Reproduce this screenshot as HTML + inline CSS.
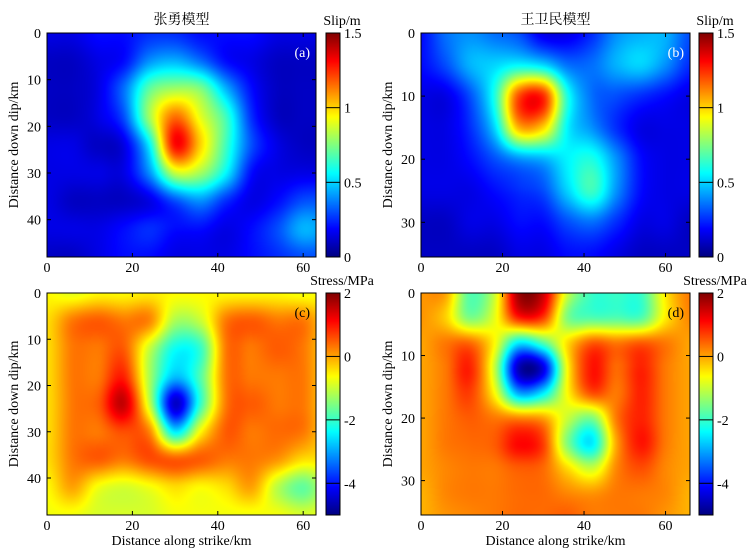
<!DOCTYPE html>
<html><head><meta charset="utf-8">
<style>
body{margin:0;background:#fff;}
#wrap{position:relative;width:756px;height:556px;overflow:hidden;font-family:"Liberation Serif","Noto Serif CJK SC",serif;}
canvas{position:absolute;}
svg{position:absolute;left:0;top:0;}
</style></head>
<body>
<div id="wrap">
<svg id="ov" width="756" height="556"></svg>
</div>
<script>
// ---- data grids ----
const slipAX = [0,6,12,18,24,30,36,42,48,54,60,66];
const slipAY = [0,6,12,18,24,30,36,42,48];
const slipA = [
[.15,.15,.2,.2,.25,.25,.2,.2,.2,.15,.15,.15],
[.1,.1,.15,.2,.4,.45,.35,.2,.15,.1,.1,.1],
[.1,.1,.15,.35,.7,.8,.75,.45,.2,.1,.1,.1],
[.1,.1,.15,.3,.8,1.15,.9,.65,.25,.1,.1,.1],
[.15,.15,.1,.15,.55,1.3,1.0,.65,.3,.15,.1,.1],
[.15,.15,.15,.15,.4,.85,.8,.55,.2,.15,.15,.15],
[.15,.1,.1,.1,.15,.3,.4,.25,.15,.2,.3,.3],
[.15,.15,.15,.2,.25,.2,.2,.15,.2,.3,.45,.4],
[.1,.1,.15,.2,.2,.15,.15,.15,.2,.25,.3,.3]];
const slipBX = [0,6,12,18,24,30,36,42,48,54,60,66];
const slipBY = [0,5,10,15,20,25,30,35];
const slipB = [
[.2,.35,.4,.35,.3,.15,.15,.25,.4,.45,.45,.3],
[.2,.3,.45,.5,.55,.5,.35,.35,.45,.5,.4,.25],
[.15,.15,.3,.6,1.2,1.25,.6,.35,.3,.25,.2,.15],
[.15,.15,.25,.5,1.05,1.0,.55,.4,.25,.15,.15,.15],
[.15,.15,.2,.3,.4,.45,.55,.6,.4,.2,.15,.15],
[.15,.15,.15,.2,.25,.3,.5,.65,.4,.2,.15,.15],
[.1,.1,.15,.15,.2,.2,.3,.35,.25,.15,.15,.1],
[.1,.1,.1,.1,.15,.15,.2,.2,.15,.1,.1,.1]];
const stressCX = [0,6,12,18,24,30,36,42,48,54,60,66];
const stressCY = [0,6,12,18,24,30,36,42,48];
const stressC = [
[-.6,-.8,-.6,-.6,-.5,-.6,-.6,-.6,-.6,-.6,-.7,-.6],
[-.4,.3,.5,.3,.2,-1.2,-1,.3,.5,.3,.3,-.4],
[-.4,.3,.3,.5,-1,-2.3,-2,.3,.3,.5,.3,-.4],
[-.4,.3,.3,.9,-1.2,-2.8,-1.8,.3,.3,.3,.3,-.4],
[-.4,.3,.5,1.5,-1,-4.5,-2,.3,.5,.3,.3,-.4],
[-.4,.3,.3,.6,.2,-2.5,-.6,.5,.3,.4,.3,-.4],
[-.4,.3,.5,.3,.6,.5,.5,.3,.3,.1,-.4,-.4],
[-.6,0,-.7,-.9,-.7,-.4,-.6,-.4,0,-1.1,-1.7,-.9],
[-.7,-.7,-.9,-.9,-.9,-.7,-.7,-.7,-.7,-.7,-.9,-.7]];
const stressDX = [0,6,12,18,24,30,36,42,48,54,60,66];
const stressDY = [0,4,8,12,16,20,24,28,32,36];
const stressD = [
[.1,0,-1.8,-1,1.8,1.5,-1,-2,-2,-2,-.5,.3],
[.1,-.3,-1.5,-.8,.9,.7,-1.5,-1.8,-1.8,-1.8,-.5,.2],
[0,.3,.4,-.6,-2.5,-1.8,-.4,.5,.3,.5,.3,0],
[0,.3,.9,-1,-4.6,-4.3,-.6,1.0,.4,.9,.3,0],
[0,.3,.7,-.6,-3,-2.5,-.6,.6,.3,.9,.3,0],
[0,.3,.5,.3,.2,0,-1,-1.5,.3,.9,.3,0],
[0,.3,.4,.5,1.1,.7,-1.5,-2.5,0,1.0,.3,0],
[0,.2,.3,.3,.5,.4,-.4,-1,.2,.6,.2,0],
[-.1,.2,.3,.3,.4,.4,.2,.1,.3,.3,.2,-.1],
[-.1,.1,.2,.3,.4,.4,.5,.3,.3,.3,.1,-.1]];
const xTicks = [0,20,40,60];
const yTicksA = [0,10,20,30,40];
const yTicksB = [0,10,20,30];
const slipTicks = [0,0.5,1,1.5];
const slipTickLabels = ['0','0.5','1','1.5'];
const stressTicks = [-4,-2,0,2];
const stressTickLabels = ['-4','-2','0','2'];

const panels = [
 {id:'a',gx:slipAX,gy:slipAY,v:slipA,x0:47,x1:316,y0:33,y1:257,xmax:63,ymax:48,yt:yTicksA,vmin:0,vmax:1.5,ct:slipTicks,cl:slipTickLabels,cx:326,title:'张勇模型',unit:'Slip/m',xt:false},
 {id:'b',gx:slipBX,gy:slipBY,v:slipB,x0:421,x1:690,y0:33,y1:257,xmax:66,ymax:35.5,yt:yTicksB,vmin:0,vmax:1.5,ct:slipTicks,cl:slipTickLabels,cx:699,title:'王卫民模型',unit:'Slip/m',xt:false},
 {id:'c',gx:stressCX,gy:stressCY,v:stressC,x0:47,x1:316,y0:293,y1:515,xmax:63,ymax:48,yt:yTicksA,vmin:-5,vmax:2,ct:stressTicks,cl:stressTickLabels,cx:326,title:'',unit:'Stress/MPa',xt:true},
 {id:'d',gx:stressDX,gy:stressDY,v:stressD,x0:421,x1:690,y0:293,y1:515,xmax:66,ymax:35.5,yt:yTicksB,vmin:-5,vmax:2,ct:stressTicks,cl:stressTickLabels,cx:699,title:'',unit:'Stress/MPa',xt:true}
];

function jet(t){
  t=Math.max(0,Math.min(1,t));
  const c=x=>Math.round(255*Math.max(0,Math.min(1,x)));
  return [c(1.5-Math.abs(4*t-3)),c(1.5-Math.abs(4*t-2)),c(1.5-Math.abs(4*t-1))];
}
function cub(p0,p1,p2,p3,t){
  return p1+0.5*t*(p2-p0+t*(2*p0-5*p1+4*p2-p3+t*(3*(p1-p2)+p3-p0)));
}
function findIdx(g,x){
  let i=0; while(i<g.length-2 && x>g[i+1]) i++;
  let t=(x-g[i])/(g[i+1]-g[i]); t=Math.max(0,Math.min(1,t));
  return [i,t];
}
function sample(p,x,y){
  const [i,tx]=findIdx(p.gx,x), [j,ty]=findIdx(p.gy,y);
  const V=(r,c)=>p.v[Math.max(0,Math.min(p.v.length-1,r))][Math.max(0,Math.min(p.v[0].length-1,c))];
  const rows=[];
  for(let r=-1;r<=2;r++) rows.push(cub(V(j+r,i-1),V(j+r,i),V(j+r,i+1),V(j+r,i+2),tx));
  return cub(rows[0],rows[1],rows[2],rows[3],ty);
}
const wrap=document.getElementById('wrap');
const ov=document.getElementById('ov');
const NS='http://www.w3.org/2000/svg';
function el(tag,attrs,txt){const e=document.createElementNS(NS,tag);for(const k in attrs)e.setAttribute(k,attrs[k]);if(txt!==undefined)e.textContent=txt;ov.appendChild(e);return e;}

panels.forEach(p=>{
  const W=p.x1-p.x0,H=p.y1-p.y0;
  const cv=document.createElement('canvas');
  cv.width=W;cv.height=H;cv.style.left=p.x0+'px';cv.style.top=p.y0+'px';
  
  
  wrap.insertBefore(cv,ov);
  const ctx=cv.getContext('2d');const img=ctx.createImageData(W,H);
  for(let py=0;py<H;py++)for(let px=0;px<W;px++){
    const x=(px+0.5)/W*p.xmax,y=(py+0.5)/H*p.ymax;
    const val=sample(p,x,y);const c=jet((val-p.vmin)/(p.vmax-p.vmin));
    const k=(py*W+px)*4;img.data[k]=c[0];img.data[k+1]=c[1];img.data[k+2]=c[2];img.data[k+3]=255;
  }
  ctx.putImageData(img,0,0);
  const cw=14;const cb=document.createElement('canvas');
  cb.width=cw;cb.height=H;cb.style.left=p.cx+'px';cb.style.top=p.y0+'px';
  
  
  wrap.insertBefore(cb,ov);
  const bc=cb.getContext('2d');
  for(let py=0;py<H;py++){const c=jet(1-(py+0.5)/H);bc.fillStyle=`rgb(${c[0]},${c[1]},${c[2]})`;bc.fillRect(0,py,cw,1);}
  const sx=x=>p.x0+x/p.xmax*W, sy=y=>p.y0+y/p.ymax*H;
  const cy=v=>p.y1-(v-p.vmin)/(p.vmax-p.vmin)*H;
  const fr=el('rect',{x:p.x0,y:p.y0,width:W,height:H,fill:'none',stroke:'#000','stroke-width':1});
  
  
  const cf=el('rect',{x:p.cx,y:p.y0,width:cw,height:H,fill:'none',stroke:'#000','stroke-width':1});
  
  
  p.ct.forEach((v,i)=>{
    const y=cy(v);
    if(v>p.vmin && v<p.vmax) el('line',{x1:p.cx,x2:p.cx+cw,y1:y,y2:y,stroke:'#000','stroke-width':1});
    const t=el('text',{x:p.cx+cw+4,y:y+5,'font-size':14},p.cl[i]);
    
    
  });
  const u=el('text',{x:p.cx+cw+2,y:p.y0-8,'font-size':14,'text-anchor':'middle'},p.unit);
  
  
  xTicks.forEach(v=>{
    const x=sx(v);
    el('line',{x1:x,x2:x,y1:p.y1,y2:p.y1-4,stroke:'#000'});
    el('line',{x1:x,x2:x,y1:p.y0,y2:p.y0+4,stroke:'#000'});
    const t=el('text',{x:x,y:p.y1+15,'font-size':14,'text-anchor':'middle'},String(v));
    
    
  });
  p.yt.forEach(v=>{
    const y=sy(v);
    el('line',{x1:p.x0,x2:p.x0+4,y1:y,y2:y,stroke:'#000'});
    el('line',{x1:p.x1,x2:p.x1-4,y1:y,y2:y,stroke:'#000'});
    const t=el('text',{x:p.x0-6,y:y+5,'font-size':14,'text-anchor':'end'},String(v));
    
    
  });
  const yl=el('text',{x:0,y:0,'font-size':14,'text-anchor':'middle',transform:`translate(${p.x0-29},${(p.y0+p.y1)/2}) rotate(-90)`},'Distance down dip/km');
  
  
  if(p.xt){
    const xl=el('text',{x:(p.x0+p.x1)/2,y:p.y1+30,'font-size':14,'text-anchor':'middle'},'Distance along strike/km');
    
    
  }
  if(p.title){
    const tt=el('text',{x:(p.x0+p.x1)/2,y:p.y0-9,'font-size':14,'text-anchor':'middle'},p.title);
    
    
  }
  const lb=el('text',{x:p.x1-6,y:p.y0+24,'font-size':14,'text-anchor':'end',fill:p.vmin<0?'#000':'#fff'},'('+p.id+')');
  
  
});
</script>
</body></html>
